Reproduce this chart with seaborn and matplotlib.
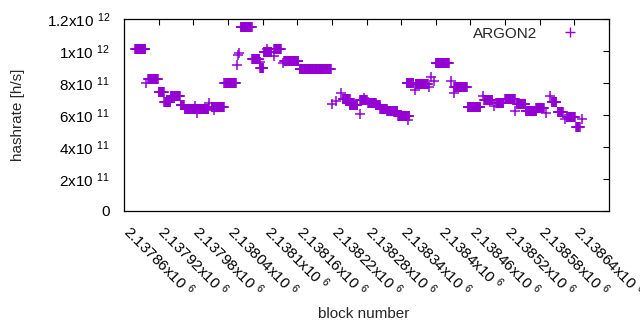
import numpy as np
import pandas as pd
import matplotlib
matplotlib.use("Agg")
import matplotlib.pyplot as plt
import seaborn as sb

# runs of consecutive blocks that share one hashrate value (in 1e11 h/s)
run_first = [2137819, 2137838, 2137842, 2137860, 2137870, 2137881, 2137898,
             2137905, 2137922, 2137923, 2137926, 2137947, 2137952, 2137956,
             2137974, 2137996, 2137998, 2138000, 2138002, 2138022, 2138035,
             2138036, 2138042, 2138047, 2138059, 2138060, 2138075, 2138077,
             2138104, 2138161, 2138168, 2138176, 2138179, 2138191, 2138208,
             2138209, 2138216, 2138223, 2138237, 2138244, 2138256, 2138275,
             2138292, 2138290, 2138304, 2138305, 2138328, 2138332, 2138337,
             2138340, 2138366, 2138371, 2138372, 2138395, 2138421, 2138424,
             2138441, 2138445, 2138460, 2138477, 2138480, 2138496, 2138514,
             2138531, 2138537, 2138541, 2138551, 2138564, 2138567, 2138583,
             2138593]
run_last = [2137837, 2137838, 2137859, 2137869, 2137880, 2137897, 2137904,
            2137921, 2137946, 2137923, 2137926, 2137947, 2137973, 2137956,
            2137994, 2137996, 2137998, 2138000, 2138021, 2138034, 2138035,
            2138041, 2138055, 2138047, 2138059, 2138072, 2138075, 2138102,
            2138158, 2138161, 2138168, 2138176, 2138191, 2138204, 2138208,
            2138220, 2138216, 2138236, 2138243, 2138255, 2138273, 2138294,
            2138292, 2138301, 2138304, 2138326, 2138328, 2138332, 2138337,
            2138363, 2138366, 2138371, 2138394, 2138417, 2138421, 2138438,
            2138441, 2138457, 2138477, 2138477, 2138495, 2138514, 2138527,
            2138531, 2138537, 2138549, 2138560, 2138564, 2138581, 2138589,
            2138593]
run_hashrate = [10.1, 8.0, 8.23, 7.44, 6.81, 7.17, 6.6,
                6.4, 6.37, 6.56, 6.1, 6.77, 6.5, 6.3,
                8.0, 9.1, 9.75, 9.9, 11.5, 9.48, 9.3,
                8.96, 9.96, 10.1, 9.7, 10.1, 9.25, 9.37,
                8.85, 6.69, 6.9, 7.4, 7.0, 6.6, 6.04,
                6.94, 7.08, 6.77, 6.6, 6.4, 6.23, 5.94,
                5.69, 8.0, 7.56, 7.92, 7.73, 8.4, 8.15,
                9.27, 8.15, 7.4, 7.73, 6.5, 7.19, 6.94,
                6.56, 6.77, 6.98, 6.25, 6.69, 6.23, 6.42,
                6.1, 7.16, 6.8, 6.2, 5.73, 5.86, 5.27,
                5.73]

xtick_blocks = [2137860, 2137920, 2137980, 2138040, 2138100, 2138160, 2138220,
                2138280, 2138340, 2138400, 2138460, 2138520, 2138580, 2138640]
xtick_labels = ["2.13786x10 $^{6}$", "2.13792x10 $^{6}$", "2.13798x10 $^{6}$",
                "2.13804x10 $^{6}$", "2.1381x10 $^{6}$", "2.13816x10 $^{6}$",
                "2.13822x10 $^{6}$", "2.13828x10 $^{6}$", "2.13834x10 $^{6}$",
                "2.1384x10 $^{6}$", "2.13846x10 $^{6}$", "2.13852x10 $^{6}$",
                "2.13858x10 $^{6}$", "2.13864x10 $^{6}$"]
ytick_values = [0, 2e11, 4e11, 6e11, 8e11, 1e12, 1.2e12]
ytick_labels = ["0", "2x10 $^{11}$", "4x10 $^{11}$", "6x10 $^{11}$",
                "8x10 $^{11}$", "1x10 $^{12}$", "1.2x10 $^{12}$"]


def expand_runs(first, last, rate):
    blocks, rates = [], []
    for a, b, v in zip(first, last, rate):
        blocks.extend(range(a, b + 1))
        rates.extend([v * 1e11] * (b - a + 1))
    return pd.DataFrame({"block": blocks, "hashrate": rates})


df = expand_runs(run_first, run_last, run_hashrate)

sb.set_style("white")
plt.rcParams["font.family"] = ["Liberation Sans", "DejaVu Sans"]
plt.rcParams["mathtext.fontset"] = "custom"
plt.rcParams["mathtext.rm"] = "Liberation Sans"
plt.rcParams["mathtext.it"] = "Liberation Sans"
plt.rcParams["mathtext.default"] = "rm"

color = "#9400d3"
fig = plt.figure(figsize=(6.4, 3.3), dpi=100)
ax = fig.add_axes([124 / 640, 1 - 211 / 330, 485 / 640, 192 / 330])

sb.scatterplot(data=df, x="block", y="hashrate", marker="+", s=45,
               color=color, linewidth=1.1, ax=ax, legend=False)

ax.set_xlim(2137800, 2138640)
ax.set_ylim(0, 1.2e12)

ax.set_xticks(xtick_blocks)
ax.set_xticklabels(xtick_labels, rotation=-45, ha="center", va="top",
                   fontsize=11)
ax.set_yticks(ytick_values)
ax.set_yticklabels(ytick_labels, fontsize=11)
ax.tick_params(axis="both", direction="in", length=4, width=0.8,
               top=True, right=True, colors="black")
ax.tick_params(axis="x", pad=8)
ax.tick_params(axis="y", pad=10)

for sp in ax.spines.values():
    sp.set_color("black")
    sp.set_linewidth(0.9)

ax.set_xlabel("block number", fontsize=11)
ax.set_ylabel("hashrate [h/s]", fontsize=11)
ax.xaxis.set_label_coords(0.495, -0.5)
ax.yaxis.set_label_coords(-0.205, 0.5)

handle = plt.Line2D([], [], marker="+", linestyle="none", color=color,
                    markersize=7, markeredgewidth=1.0)
ax.legend([handle], ["ARGON2"], loc="upper right", frameon=False,
          markerfirst=False, fontsize=11, handlelength=2.5,
          handletextpad=0.9, borderaxespad=0.1,
          bbox_to_anchor=(0.975, 1.0))

fig.savefig("out.png", dpi=100)
